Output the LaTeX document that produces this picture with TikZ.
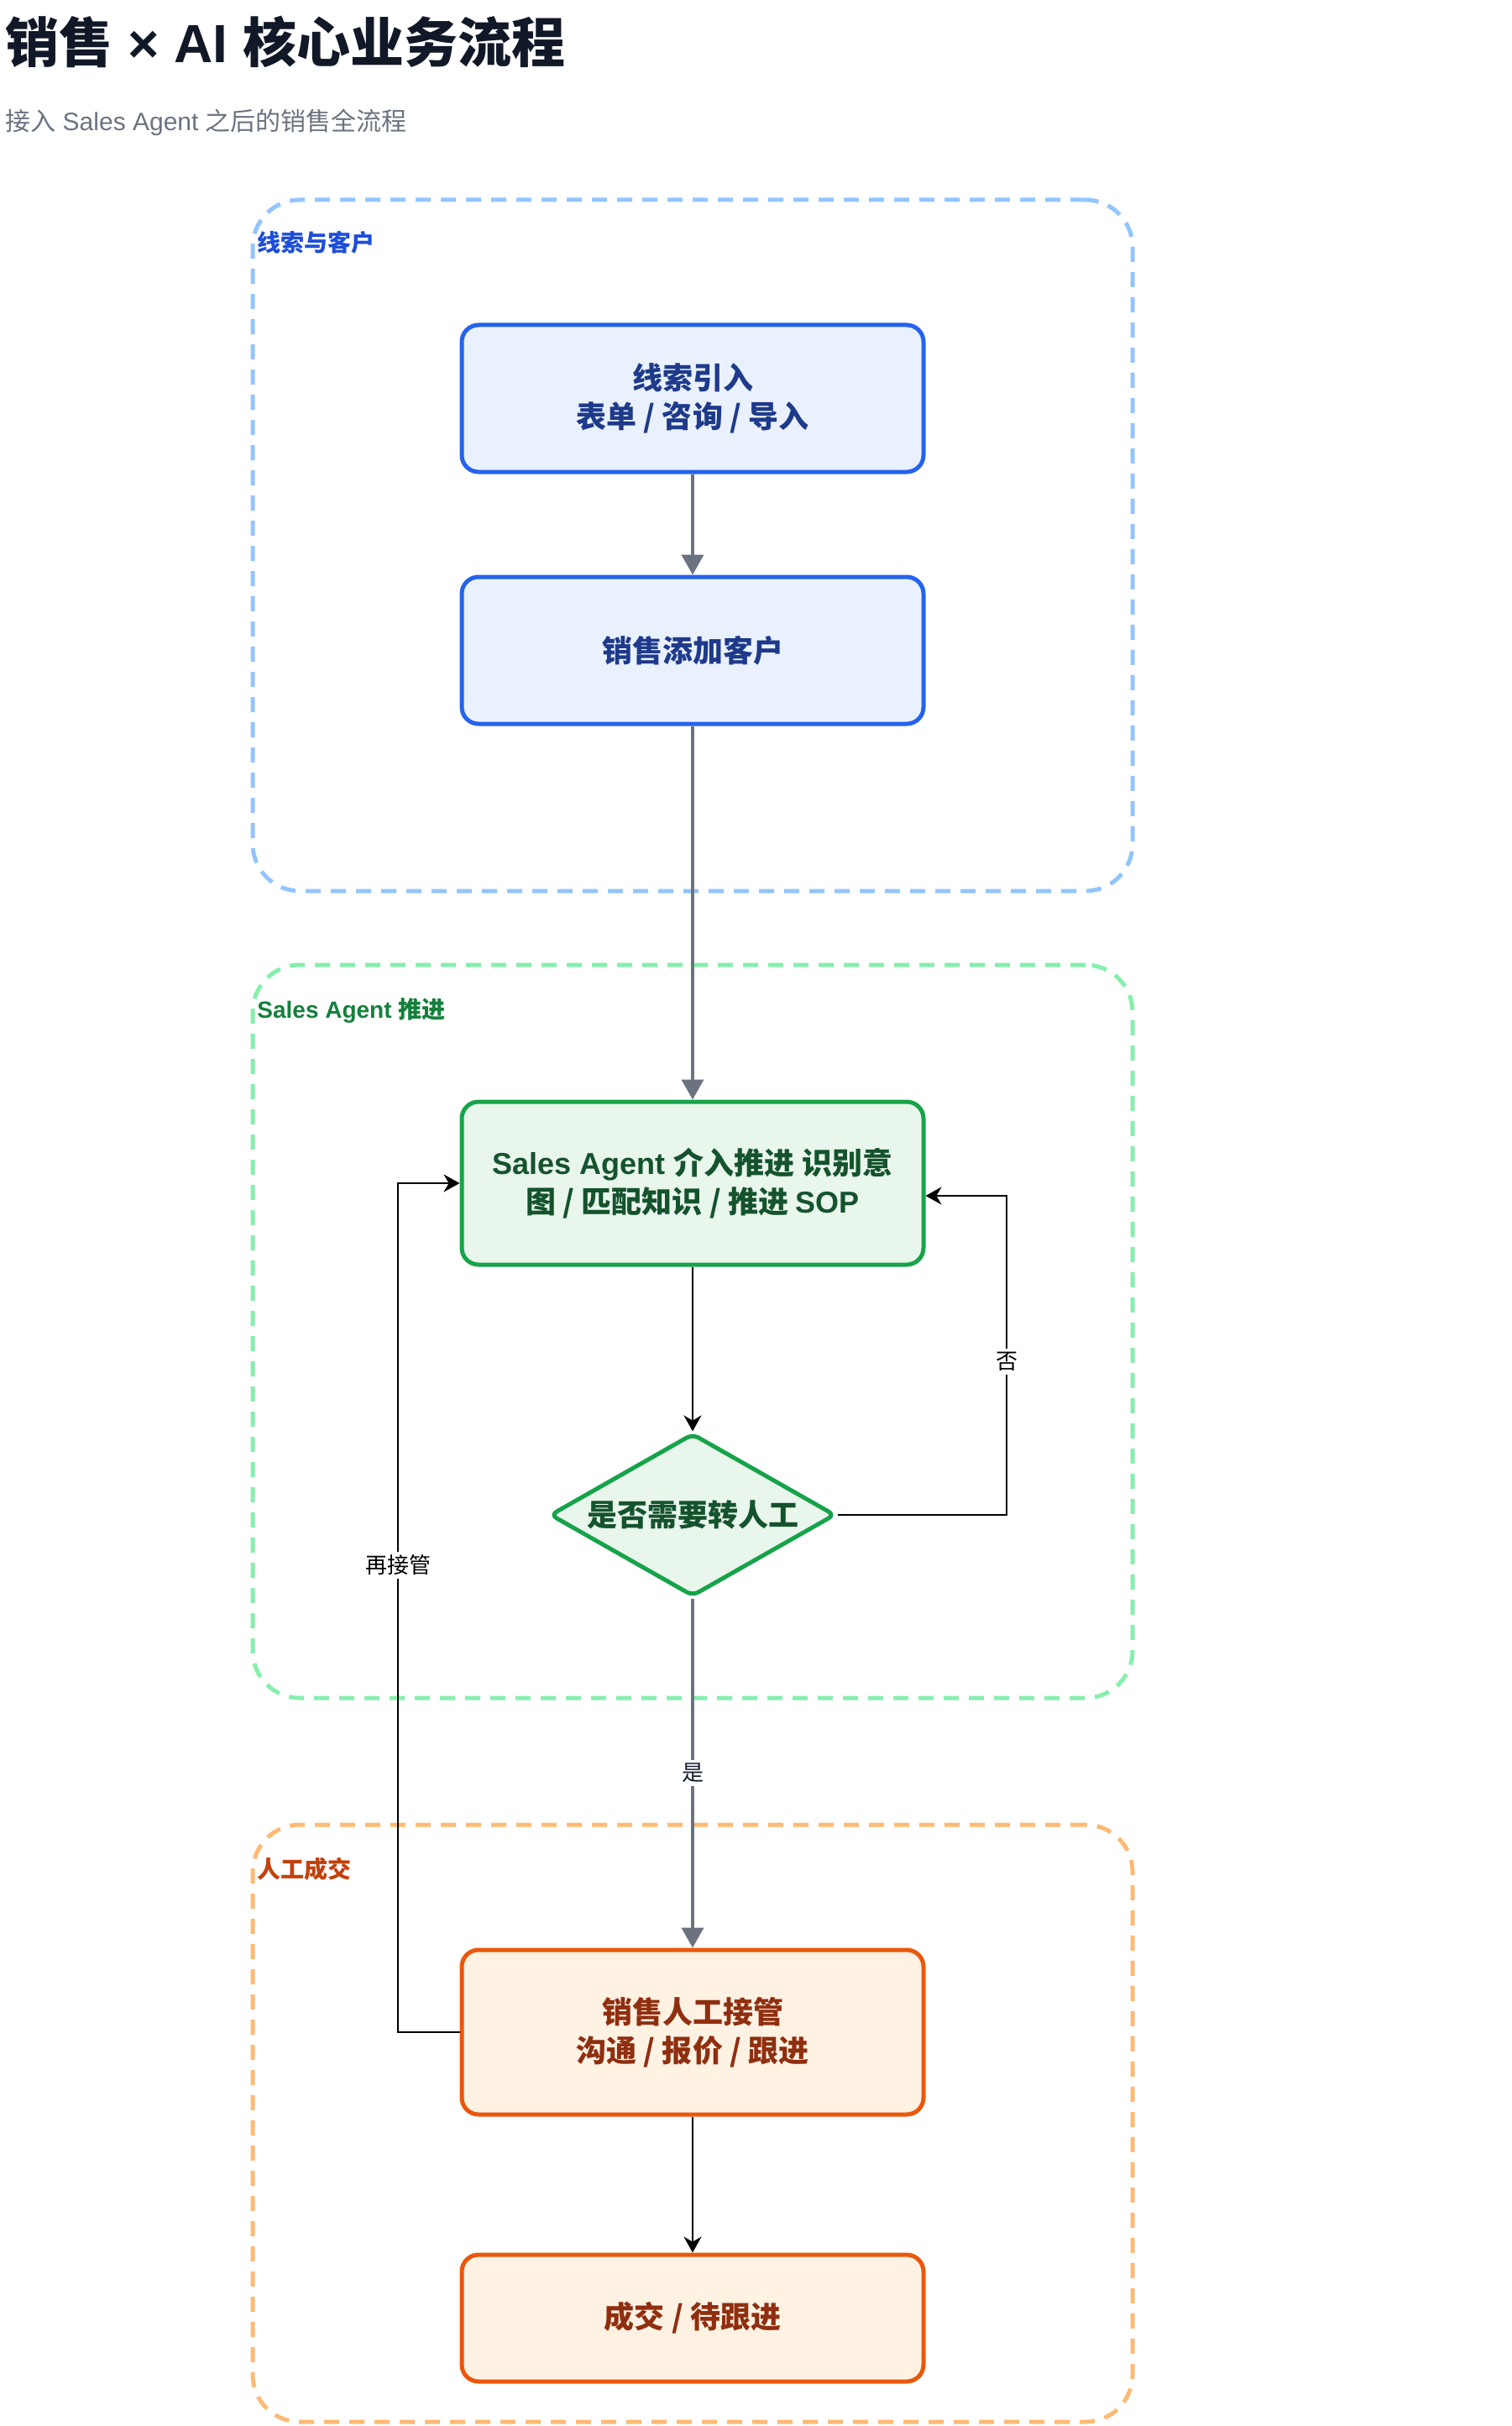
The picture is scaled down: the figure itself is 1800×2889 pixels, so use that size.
\documentclass[tikz,border=0pt]{standalone}
\usepackage{fontspec}
\setmainfont{Noto Sans CJK SC}
\newfontfamily\latin{Liberation Sans}[BoldFont={Liberation Sans Bold}]
\usetikzlibrary{shapes.geometric,arrows.meta}
\definecolor{title_gray}{HTML}{111827}
\definecolor{sub_gray}{HTML}{6B7280}
\definecolor{blue_line}{HTML}{2563EB}
\definecolor{blue_fill}{HTML}{EAF1FE}
\definecolor{blue_text}{HTML}{1E3A8A}
\definecolor{blue_group}{HTML}{93C5FD}
\definecolor{blue_label}{HTML}{1D4ED8}
\definecolor{green_line}{HTML}{16A34A}
\definecolor{green_fill}{HTML}{E9F6EC}
\definecolor{green_text}{HTML}{14532D}
\definecolor{green_group}{HTML}{86EFAC}
\definecolor{green_label}{HTML}{15803D}
\definecolor{orange_line}{HTML}{EA580C}
\definecolor{orange_fill}{HTML}{FFF2E3}
\definecolor{orange_text}{HTML}{8F2F10}
\definecolor{orange_group}{HTML}{FDBA74}
\definecolor{orange_label}{HTML}{C2410C}
\definecolor{arrow_gray}{HTML}{6B7280}
\begin{document}
\begin{tikzpicture}[x=0.5pt,y=-0.5pt,
    group_box/.style={draw,line width=2.5pt,dash pattern=on 9pt off 6pt,rounded corners=28pt,minimum width=524pt,inner sep=0pt},
    group_label/.style={anchor=west,inner sep=0pt,font=\bfseries\fontsize{14pt}{16pt}\selectfont},
    step_box/.style={draw,line width=2.5pt,rounded corners=10pt,minimum width=275pt,inner sep=0pt,align=center,font=\bfseries\fontsize{18pt}{23pt}\selectfont},
    ask_box/.style={diamond,aspect=1.75,draw,line width=2.5pt,rounded corners=4pt,minimum width=170pt,minimum height=97pt,inner sep=0pt,font=\bfseries\fontsize{18pt}{22pt}\selectfont},
    main_line/.style={draw=arrow_gray,line width=2pt,-{Triangle[length=12pt,width=13pt]}},
    thin_line/.style={draw=black,line width=1.25pt,-{Stealth[length=9.5pt,width=10.5pt]}},
    edge_label/.style={fill=white,inner sep=2pt,font=\fontsize{13pt}{15pt}\selectfont}]
    \useasboundingbox (0,0) rectangle (1800,2889);
    % title
    \node[anchor=west,inner sep=0pt,text=title_gray,font=\bfseries\fontsize{32pt}{36pt}\selectfont] (title) at (6,50) {销售{\latin\ ×\ AI\ }核心业务流程};
    \node[anchor=west,inner sep=0pt,text=sub_gray,font=\fontsize{15pt}{18pt}\selectfont] (sub) at (6,146) {接入{\latin\ Sales Agent\ }之后的销售全流程};
    % groups
    \node[group_box,draw=blue_group,minimum height=411.5pt] (g1) at (825,649.5) {};
    \node[group_box,draw=green_group,minimum height=436.5pt] (g2) at (825,1585.5) {};
    \node[group_box,draw=orange_group,minimum height=355.5pt] (g3) at (825,2528.5) {};
    \node[group_label,text=blue_label] (t1) at (306,289) {线索与客户};
    \node[group_label,text=green_label] (t2) at (306,1203) {{\latin Sales Agent }推进};
    \node[group_label,text=orange_label] (t3) at (306,2226) {人工成交};
    % steps
    \node[step_box,draw=blue_line,fill=blue_fill,text=blue_text,minimum height=87.5pt] (lead) at (825,474.5) {线索引入\\表单 / 咨询 / 导入};
    \node[step_box,draw=blue_line,fill=blue_fill,text=blue_text,minimum height=87.5pt] (add) at (825,774.5) {销售添加客户};
    \node[step_box,draw=green_line,fill=green_fill,text=green_text,minimum height=97pt] (agent) at (825,1409) {{\latin Sales Agent }介入推进 识别意\\图 / 匹配知识 / 推进 {\latin SOP}};
    \node[ask_box,draw=green_line,fill=green_fill,text=green_text] (ask) at (825,1804) {是否需要转人工};
    \node[step_box,draw=orange_line,fill=orange_fill,text=orange_text,minimum height=98pt] (man) at (825,2420) {销售人工接管\\沟通 / 报价 / 跟进};
    \node[step_box,draw=orange_line,fill=orange_fill,text=orange_text,minimum height=75.5pt] (deal) at (825,2760.5) {成交 / 待跟进};
    % links
    \coordinate (no_turn) at (1199,1424);
    \coordinate (back_turn) at (474,1409);
    \draw[main_line] (lead) -- (add);
    \draw[main_line] (add) -- (agent);
    \draw[thin_line] (agent) -- (ask);
    \draw[main_line] (ask) -- node[edge_label,text=title_gray]{是} (man);
    \draw[thin_line] (man) -- (deal);
    \draw[thin_line] (ask.east) -| node[edge_label,pos=0.74]{否} (no_turn) -- (agent.east |- no_turn);
    \draw[thin_line] (man.west) -| node[edge_label,pos=0.775]{再接管} (back_turn) -- (agent.west);
\end{tikzpicture}
\end{document}
